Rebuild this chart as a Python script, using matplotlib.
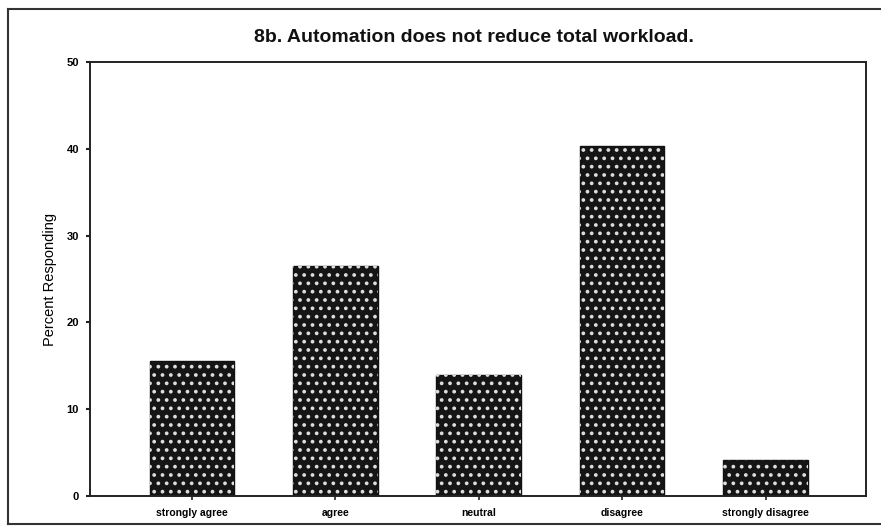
import matplotlib
matplotlib.use("Agg")
import matplotlib.pyplot as plt
from matplotlib.lines import Line2D

categories = ["strongly agree", "agree", "neutral", "disagree", "strongly disagree"]
values = [15.6, 26.5, 13.9, 40.3, 4.2]
yticks = [0, 10, 20, 30, 40, 50]
title = "8b. Automation does not reduce total workload."
ylabel = "Percent Responding"

plt.rcParams['font.family'] = ['Liberation Sans', 'DejaVu Sans']
plt.rcParams['hatch.linewidth'] = 1.5

fig = plt.figure(figsize=(8.81, 5.28), dpi=100)
ax = fig.add_axes([90/881, 1-496/528, 776/881, 434/528])

x = list(range(len(categories)))
ax.bar(x, values, width=0.59, color='#151515', edgecolor='#111111', linewidth=1.0, zorder=2)
ax.bar(x, values, width=0.59, color='none', edgecolor='#dddddd', linewidth=0, hatch='..', zorder=3)

ax.set_xlim(-0.71, 4.70)
ax.set_ylim(0, 50)
ax.set_yticks(yticks)
ax.set_yticklabels([str(t) for t in yticks], fontsize=8, fontweight='bold')
ax.set_xticks(x)
ax.set_xticklabels(categories, fontsize=7.5, fontweight='bold')
ax.tick_params(axis='y', length=3, width=1.5, pad=5, color='#222222')
ax.tick_params(axis='x', length=3, width=1.2, pad=6, color='#222222')
for s in ax.spines.values():
    s.set_linewidth(1.4)
    s.set_color('#222222')
ax.set_ylabel(ylabel, fontsize=10.5, labelpad=7)

fig.text(474/881, 1-37/528, title, ha='center', va='center', fontsize=14,
         fontweight='bold', color='#111111')

# outer frame of the scanned page
for xs, ys in [((8/881, 8/881), (1-9/528, 1-524/528)),
               ((8/881, 1.0), (1-9/528, 1-9/528)),
               ((8/881, 1.0), (1-524/528, 1-524/528))]:
    fig.add_artist(Line2D(xs, ys, transform=fig.transFigure, color='#333333', linewidth=1.5))

fig.savefig("out.png", dpi=100)
